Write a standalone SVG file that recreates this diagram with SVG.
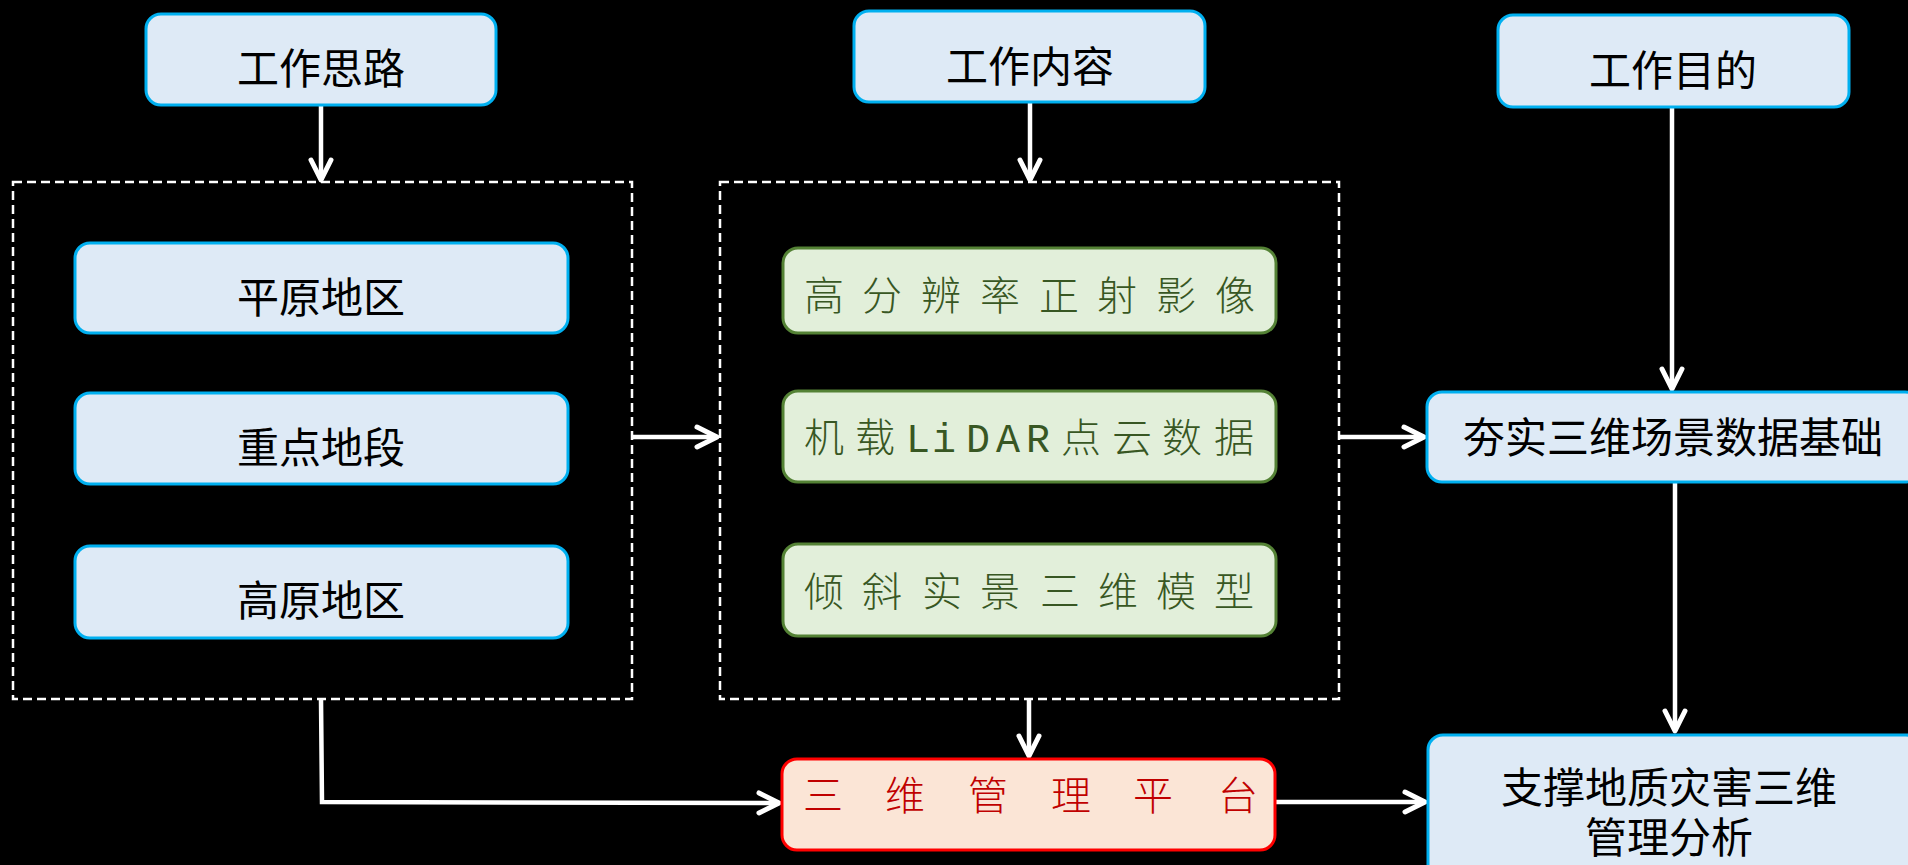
<svg xmlns="http://www.w3.org/2000/svg" width="1908" height="865" viewBox="0 0 1908 865">
<style>
.bg{fill:#000}
.blue{fill:#DEEAF6;stroke:#00B0F0;stroke-width:3}
.green{fill:#E2EFDA;stroke:#548235;stroke-width:3}
.red{fill:#FBE5D6;stroke:#FF0000;stroke-width:3}
.dash{fill:none;stroke:#FFFFFF;stroke-width:2.5;stroke-dasharray:9 5}
.bt{font-family:"Noto Sans CJK SC","Liberation Sans",sans-serif;font-size:42px;fill:#000;text-anchor:middle}
.gt{font-family:"Liberation Mono","Noto Sans CJK SC",monospace;font-size:40px;fill:#385723;font-weight:300}
.rt{font-family:"Liberation Serif","Noto Sans CJK SC",serif;font-size:40px;fill:#C00000;font-weight:300}
.conn{fill:none;stroke:#FFFFFF;stroke-width:4.5}
</style>
<defs>
<marker id="arr" markerUnits="userSpaceOnUse" markerWidth="40" markerHeight="40" viewBox="-30 -20 40 40" refX="0" refY="0" orient="auto">
<path d="M-20,-10 L0,0 L-20,10" fill="none" stroke="#FFFFFF" stroke-width="5" stroke-linecap="round" stroke-linejoin="round"/>
</marker>
</defs>
<rect class="bg" x="0" y="0" width="1908" height="865"/>

<g id="connectors">
<line class="conn" x1="321" y1="105" x2="321" y2="180" marker-end="url(#arr)"/>
<line class="conn" x1="1030" y1="102" x2="1030" y2="180" marker-end="url(#arr)"/>
<line class="conn" x1="1672" y1="107" x2="1672" y2="389" marker-end="url(#arr)"/>
<line class="conn" x1="633" y1="437" x2="717" y2="437" marker-end="url(#arr)"/>
<line class="conn" x1="1340" y1="437" x2="1424" y2="437" marker-end="url(#arr)"/>
<line class="conn" x1="1675" y1="482" x2="1675" y2="731" marker-end="url(#arr)"/>
<polyline class="conn" points="321,699 322,802 779,803" marker-end="url(#arr)"/>
<line class="conn" x1="1029" y1="699" x2="1029" y2="756" marker-end="url(#arr)"/>
<line class="conn" x1="1276" y1="802" x2="1425" y2="802" marker-end="url(#arr)"/>
</g>

<g id="group-left"><rect class="dash" x="13" y="182" width="619" height="517"/></g>
<g id="group-mid"><rect class="dash" x="720" y="182" width="619" height="517"/></g>

<g id="h-silu"><rect class="blue" x="146" y="14" width="350" height="91" rx="15"/><text class="bt" x="321" y="84">工作思路</text></g>
<g id="h-neirong"><rect class="blue" x="854" y="11" width="351" height="91" rx="15"/><text class="bt" x="1030" y="82">工作内容</text></g>
<g id="h-mudi"><rect class="blue" x="1498" y="15" width="351" height="92" rx="15"/><text class="bt" x="1673" y="86">工作目的</text></g>

<g id="pingyuan"><rect class="blue" x="75" y="243" width="493" height="90" rx="15"/><text class="bt" x="321" y="313">平原地区</text></g>
<g id="zhongdian"><rect class="blue" x="75" y="393" width="493" height="91" rx="15"/><text class="bt" x="321" y="463">重点地段</text></g>
<g id="gaoyuan"><rect class="blue" x="75" y="546" width="493" height="92" rx="15"/><text class="bt" x="321" y="616">高原地区</text></g>

<g id="yingxiang"><rect class="green" x="783" y="248" width="493" height="85" rx="15"/><text class="gt" x="804 862 921 980 1039 1097 1156 1215" y="310">高分辨率正射影像</text></g>
<g id="lidar"><rect class="green" x="783" y="391" width="493" height="91" rx="15"/><text class="gt" x="804 855 906 932 966 996 1026 1061 1112 1162 1214" y="452">机载LiDAR点云数据</text></g>
<g id="qingxie"><rect class="green" x="783" y="544" width="493" height="92" rx="15"/><text class="gt" x="804 862 922 980 1040 1098 1156 1214" y="606">倾斜实景三维模型</text></g>

<g id="pingtai"><rect class="red" x="782" y="759" width="493" height="91" rx="15"/><text class="rt" x="803 885 968 1051 1133 1218" y="810">三维管理平台</text></g>

<g id="hangshi"><rect class="blue" x="1427" y="392" width="493" height="90" rx="15"/><text class="bt" x="1673" y="453">夯实三维场景数据基础</text></g>
<g id="zhicheng"><rect class="blue" x="1428" y="735" width="493" height="145" rx="15"/><text class="bt"><tspan x="1669" y="803">支撑地质灾害三维</tspan><tspan x="1669" y="853">管理分析</tspan></text></g>
</svg>
